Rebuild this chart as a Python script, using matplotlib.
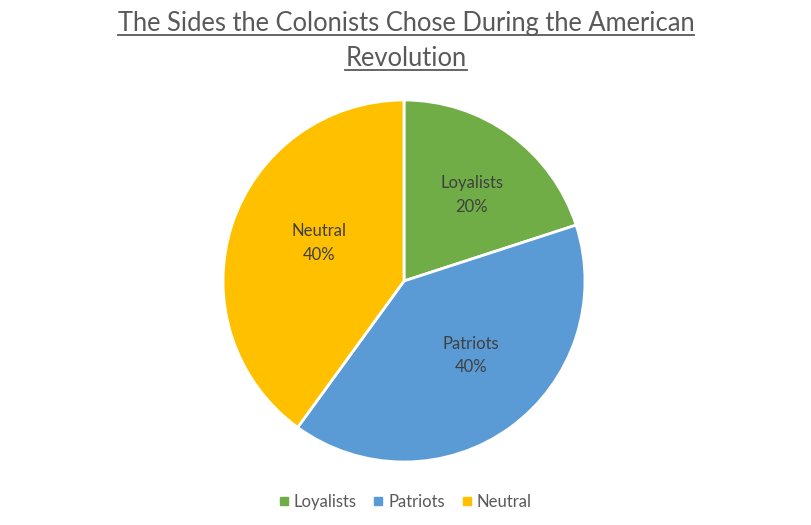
import matplotlib
matplotlib.use("Agg")
import matplotlib.pyplot as plt
import numpy as np
from matplotlib.lines import Line2D

# data
sides = ["Loyalists", "Patriots", "Neutral"]
shares = [20, 40, 40]
colors = ["#70AD47", "#5B9BD5", "#FFC000"]
title = "The Sides the Colonists Chose During the American\nRevolution"

# label placement (radius fraction, angle tweak in degrees) - mimics excel "best fit"
label_r = [0.605, 0.555, 0.515]
label_dang = [-2.3, 5.8, -6.1]

plt.rcParams['font.family'] = ['Lato', 'DejaVu Sans']

fig = plt.figure(figsize=(8.12, 5.25), dpi=100)
ax = fig.add_axes([223/812, 63/525, 362/812, 362/525])

labels_it = iter(sides)
def fmt(p):
    return "{}\n{:.0f}%".format(next(labels_it), p)

wedges, texts, autotexts = ax.pie(shares, colors=colors, startangle=90, counterclock=False,
                                  autopct=fmt, pctdistance=0.6,
                                  wedgeprops=dict(edgecolor="white", linewidth=2))
for w, t, rr, da in zip(wedges, autotexts, label_r, label_dang):
    ang = np.deg2rad((w.theta1 + w.theta2) / 2 + da)
    t.set_position((rr * np.cos(ang), rr * np.sin(ang)))
    t.set_color("#404040")
    t.set_fontsize(12)
    t.set_linespacing(1.55)
ax.set_xlim(-1, 1)
ax.set_ylim(-1, 1)
ax.set_aspect("equal")

# title with underline
fig.canvas.draw()
r = fig.canvas.get_renderer()
t1 = fig.text(0.5, 1 - 24/525, title.split("\n")[0], ha="center", va="center",
              fontsize=18.4, color="#595959")
t2 = fig.text(0.5, 1 - 59/525, title.split("\n")[1], ha="center", va="center",
              fontsize=18.4, color="#595959")
for t in (t1, t2):
    bb = t.get_window_extent(renderer=r)
    y = bb.y0 + 2
    fig.add_artist(Line2D([bb.x0 / 812, bb.x1 / 812], [y / 525, y / 525],
                          transform=fig.transFigure, color="#595959", linewidth=1.3))

handles = [Line2D([], [], marker="s", linestyle="", color=c, markersize=6) for c in colors]
fig.legend(handles, sides, loc="center", bbox_to_anchor=(0.5, 1 - 502/525), ncol=3,
           frameon=False, fontsize=12, handlelength=0.4, handletextpad=0.4,
           columnspacing=1.1, labelcolor="#595959")

fig.savefig("out.png", dpi=100)
